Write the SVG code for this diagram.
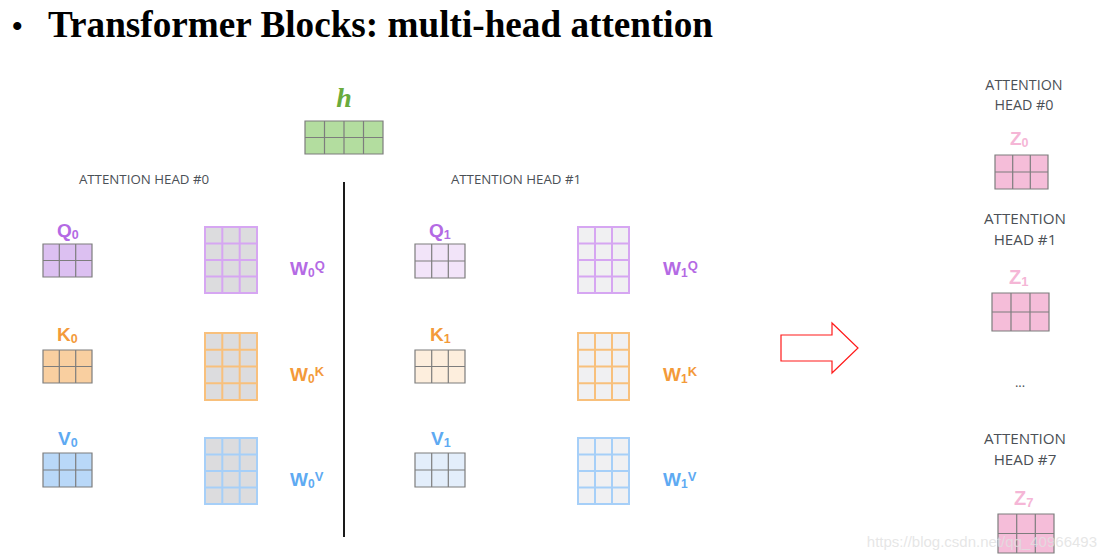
<svg xmlns="http://www.w3.org/2000/svg" width="1104" height="560" viewBox="0 0 1104 560">
<style>
.title{font-family:"Liberation Serif","Times New Roman",serif;font-weight:bold;fill:#000}
.hdr{font-family:"Open Sans","Liberation Sans",sans-serif;fill:#4b5056}
.lbl{font-family:"Liberation Sans",Arial,sans-serif;font-weight:bold}
.pu{fill:#b46ae4}.or{fill:#f39a3a}.bl{fill:#5eaaf2}.pk{fill:#f5b6d6}
.gl{stroke:#7d7d7d;stroke-width:1.2;fill:none}
.wq{stroke:#d6a6f2;stroke-width:2;fill:none}
.wk{stroke:#f8c07c;stroke-width:2;fill:none}
.wv{stroke:#a6cff8;stroke-width:2;fill:none}
</style>
<rect width="1104" height="560" fill="#fff"/>
<g id="title">
<text class="title" x="12" y="36" font-size="30">•</text>
<text class="title" x="48" y="37" font-size="38" textLength="665" lengthAdjust="spacingAndGlyphs">Transformer Blocks: multi-head attention</text>
</g>
<g id="h">
<text x="344" y="107" text-anchor="middle" font-family="Liberation Serif,serif" font-style="italic" font-weight="bold" font-size="28" fill="#6aab3c">h</text>
<rect x="305" y="121" width="78" height="33" fill="#b3dd9f"/>
<path class="gl" stroke="#7c9a72" d="M305,121H383V154H305Z M324.5,121V154 M344,121V154 M363.5,121V154 M305,137.5H383"/>
</g>
<g id="connectors">
<line x1="344" y1="182" x2="344" y2="537" stroke="#1a1a1a" stroke-width="2"/>
<path d="M781,335H832V323L858,348L832,373V361H781Z" fill="#fff" stroke="#ff1a1a" stroke-width="1.2"/>
</g>
<g id="head0">
<text class="hdr" x="144" y="184" font-size="13.3" text-anchor="middle">ATTENTION HEAD #0</text>
</g>
<g id="head1">
<text class="hdr" x="516" y="184" font-size="13.3" text-anchor="middle">ATTENTION HEAD #1</text>
</g>
<g id="q0">
<text class="lbl pu" x="57" y="237" font-size="19">Q<tspan font-size="12.5" dy="2">0</tspan></text>
<rect x="43" y="244" width="49" height="33" fill="#dcc0f1"/>
<path class="gl" d="M43,244H92V277H43Z M59.3,244V277 M75.7,244V277 M43,260.5H92"/>
</g>
<g id="w0q">
<rect x="205" y="227" width="52" height="66" fill="#dcdcde"/>
<path class="wq" d="M205,227H257V293H205Z M222.3,227V293 M239.7,227V293 M205,243.5H257 M205,260H257 M205,276.5H257"/>
<text class="lbl pu" x="290" y="275" font-size="19">W<tspan font-size="12" dy="2">0</tspan><tspan font-size="13" dy="-7">Q</tspan></text>
</g>
<g id="k0">
<text class="lbl or" x="57" y="341" font-size="19">K<tspan font-size="12.5" dy="2">0</tspan></text>
<rect x="43" y="350" width="49" height="33" fill="#f9cfa0"/>
<path class="gl" d="M43,350H92V383H43Z M59.3,350V383 M75.7,350V383 M43,366.5H92"/>
</g>
<g id="w0k">
<rect x="205" y="333" width="52" height="67" fill="#dcdcde"/>
<path class="wk" d="M205,333H257V400H205Z M222.3,333V400 M239.7,333V400 M205,349.75H257 M205,366.5H257 M205,383.25H257"/>
<text class="lbl or" x="290" y="381" font-size="19">W<tspan font-size="12" dy="2">0</tspan><tspan font-size="13" dy="-7">K</tspan></text>
</g>
<g id="v0">
<text class="lbl bl" x="58" y="445" font-size="19">V<tspan font-size="12.5" dy="2">0</tspan></text>
<rect x="43" y="453" width="49" height="34" fill="#b9d8f8"/>
<path class="gl" d="M43,453H92V487H43Z M59.3,453V487 M75.7,453V487 M43,470H92"/>
</g>
<g id="w0v">
<rect x="205" y="438" width="52" height="66" fill="#dcdcde"/>
<path class="wv" d="M205,438H257V504H205Z M222.3,438V504 M239.7,438V504 M205,454.5H257 M205,471H257 M205,487.5H257"/>
<text class="lbl bl" x="290" y="486" font-size="19">W<tspan font-size="12" dy="2">0</tspan><tspan font-size="13" dy="-7">V</tspan></text>
</g>
<g id="q1">
<text class="lbl pu" x="429" y="237" font-size="19">Q<tspan font-size="12.5" dy="2">1</tspan></text>
<rect x="415" y="244" width="50" height="34" fill="#f2e4f9"/>
<path class="gl" d="M415,244H465V278H415Z M431.7,244V278 M448.3,244V278 M415,261H465"/>
</g>
<g id="w1q">
<rect x="578" y="227" width="51" height="66" fill="#f0f0f2"/>
<path class="wq" d="M578,227H629V293H578Z M595,227V293 M612,227V293 M578,243.5H629 M578,260H629 M578,276.5H629"/>
<text class="lbl pu" x="663" y="275" font-size="19">W<tspan font-size="12" dy="2">1</tspan><tspan font-size="13" dy="-7">Q</tspan></text>
</g>
<g id="k1">
<text class="lbl or" x="430" y="341" font-size="19">K<tspan font-size="12.5" dy="2">1</tspan></text>
<rect x="415" y="350" width="50" height="33" fill="#fdeedd"/>
<path class="gl" d="M415,350H465V383H415Z M431.7,350V383 M448.3,350V383 M415,366.5H465"/>
</g>
<g id="w1k">
<rect x="578" y="333" width="51" height="67" fill="#f0f0f2"/>
<path class="wk" d="M578,333H629V400H578Z M595,333V400 M612,333V400 M578,349.75H629 M578,366.5H629 M578,383.25H629"/>
<text class="lbl or" x="663" y="381" font-size="19">W<tspan font-size="12" dy="2">1</tspan><tspan font-size="13" dy="-7">K</tspan></text>
</g>
<g id="v1">
<text class="lbl bl" x="431" y="445" font-size="19">V<tspan font-size="12.5" dy="2">1</tspan></text>
<rect x="415" y="453" width="50" height="34" fill="#e3eefb"/>
<path class="gl" d="M415,453H465V487H415Z M431.7,453V487 M448.3,453V487 M415,470H465"/>
</g>
<g id="w1v">
<rect x="578" y="438" width="51" height="66" fill="#f0f0f2"/>
<path class="wv" d="M578,438H629V504H578Z M595,438V504 M612,438V504 M578,454.5H629 M578,471H629 M578,487.5H629"/>
<text class="lbl bl" x="663" y="486" font-size="19">W<tspan font-size="12" dy="2">1</tspan><tspan font-size="13" dy="-7">V</tspan></text>
</g>
<g id="z0">
<text class="hdr" x="1024" y="90" font-size="14.3" text-anchor="middle">ATTENTION</text>
<text class="hdr" x="1024" y="110" font-size="14.3" text-anchor="middle">HEAD #0</text>
<text class="lbl pk" x="1010" y="145" font-size="19">Z<tspan font-size="12.5" dy="2">0</tspan></text>
<rect x="995" y="155" width="53" height="34" fill="#f5bdd9"/>
<path class="gl" d="M995,155H1048V189H995Z M1012.7,155V189 M1030.3,155V189 M995,172H1048"/>
</g>
<g id="z1">
<text class="hdr" x="1025" y="224" font-size="15.2" text-anchor="middle">ATTENTION</text>
<text class="hdr" x="1025" y="245" font-size="15.2" text-anchor="middle">HEAD #1</text>
<text class="lbl pk" x="1009" y="284" font-size="20">Z<tspan font-size="13" dy="2">1</tspan></text>
<rect x="992" y="293" width="57" height="38" fill="#f5bdd9"/>
<path class="gl" d="M992,293H1049V331H992Z M1011,293V331 M1030,293V331 M992,312H1049"/>
</g>
<g id="ellipsis">
<text class="hdr" x="1020" y="387" font-size="13" text-anchor="middle">...</text>
</g>
<g id="z7">
<text class="hdr" x="1025" y="444" font-size="15.2" text-anchor="middle">ATTENTION</text>
<text class="hdr" x="1025" y="465" font-size="15.2" text-anchor="middle">HEAD #7</text>
<text class="lbl pk" x="1014" y="505" font-size="20">Z<tspan font-size="13" dy="2">7</tspan></text>
<rect x="998" y="514" width="56" height="39" fill="#f5bdd9"/>
<path class="gl" d="M998,514H1054V553H998Z M1016.7,514V553 M1035.3,514V553 M998,533.5H1054"/>
</g>
<g id="watermark">
<text x="1097" y="547" font-family="Liberation Sans,Arial,sans-serif" font-size="15" text-anchor="end" fill="#e0e0e0" fill-opacity="0.8">https://blog.csdn.net/qq_40966493</text>
</g>
</svg>
